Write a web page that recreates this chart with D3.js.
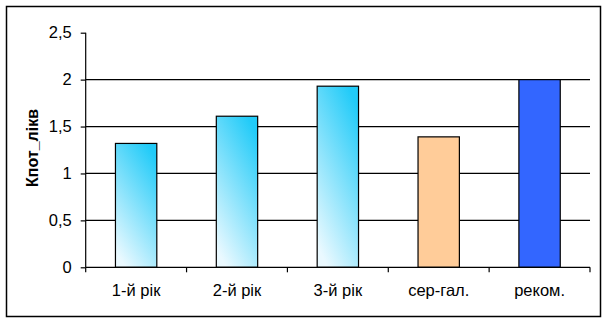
<!DOCTYPE html>
<html><head><meta charset="utf-8">
<script src="https://cdn.jsdelivr.net/npm/d3@7"></script>
<style>body{margin:0;background:#fff}svg{display:block}text{font-family:"Liberation Sans",Arial,sans-serif}</style>
</head><body><svg id="c" width="608" height="322"></svg>
<script>
const categories = ["1-й рік","2-й рік","3-й рік","сер-гал.","реком."];
const values = [1.32, 1.61, 1.93, 1.39, 2.0];
const fills = ["grad","grad","grad","#FFCC99","#3366FF"];
const yTicks = [0, 0.5, 1, 1.5, 2, 2.5];
const yTickLabels = ["0","0,5","1","1,5","2","2,5"];
const yTitle = "Кпот_лікв";

const svg = d3.select("#c");
const defs = svg.append("defs");
const g = defs.append("linearGradient").attr("id","grad")
  .attr("x1",0.75).attr("y1",0).attr("x2",0.25).attr("y2",1);
g.append("stop").attr("offset","0%").attr("stop-color","#22CBF8");
g.append("stop").attr("offset","100%").attr("stop-color","#EAF9FF");

svg.append("rect").attr("x",6.5).attr("y",6.5).attr("width",594).attr("height",310)
  .attr("fill","#fff").attr("stroke","#000").attr("stroke-width",1.5);

const L=85.7, R=590, T=32.7, B=267.3;
const x = d3.scaleBand().domain(categories).range([L,R]).paddingInner(0).paddingOuter(0);
const y = d3.scaleLinear().domain([0,2.5]).range([B,T]);

// gridlines
svg.append("g").selectAll("line").data(yTicks.filter(t=>t>0 && t<2.5)).join("line")
  .attr("x1",L).attr("x2",R).attr("y1",d=>y(d)).attr("y2",d=>y(d))
  .attr("stroke","#000").attr("stroke-width",1.2);

// bars
const bw = x.bandwidth()*0.41;
svg.append("g").selectAll("rect").data(values).join("rect")
  .attr("x",(d,i)=>x(categories[i])+x.bandwidth()/2-bw/2)
  .attr("width",bw)
  .attr("y",d=>y(d)).attr("height",d=>B-y(d))
  .attr("fill",(d,i)=>fills[i]==="grad"?"url(#grad)":fills[i])
  .attr("stroke","#000").attr("stroke-width",1.2);

// y axis
const ya = svg.append("g").attr("transform",`translate(${L},0)`)
  .call(d3.axisLeft(y).tickValues(yTicks).tickFormat((d,i)=>yTickLabels[i]).tickSize(5).tickPadding(9));
ya.select(".domain").attr("stroke","#000").attr("stroke-width",1.2).attr("d",`M0,${T}V${B}`);
ya.selectAll(".tick line").attr("stroke","#000").attr("stroke-width",1.2);
ya.selectAll("text").attr("font-size",16.5).attr("fill","#000").attr("font-family","Liberation Sans, Arial, sans-serif");

// x axis
const xa = svg.append("g").attr("transform",`translate(0,${B})`)
  .call(d3.axisBottom(x).tickSize(0).tickPadding(17));
xa.select(".domain").attr("stroke","#000").attr("stroke-width",1.2).attr("d",`M${L},0H${R}`);
xa.selectAll("text").attr("font-size",16.5).attr("fill","#000").attr("font-family","Liberation Sans, Arial, sans-serif");
const bounds = categories.map(c=>x(c)).concat([R]);
xa.append("g").selectAll("line").data(bounds).join("line")
  .attr("x1",d=>d).attr("x2",d=>d).attr("y1",0).attr("y2",5)
  .attr("stroke","#000").attr("stroke-width",1.2);

// y title
svg.append("text").attr("transform",`translate(38,${(T+B)/2 - 2}) rotate(-90)`)
  .attr("text-anchor","middle").attr("font-size",16).attr("font-weight","bold").text(yTitle);
</script></body></html>
